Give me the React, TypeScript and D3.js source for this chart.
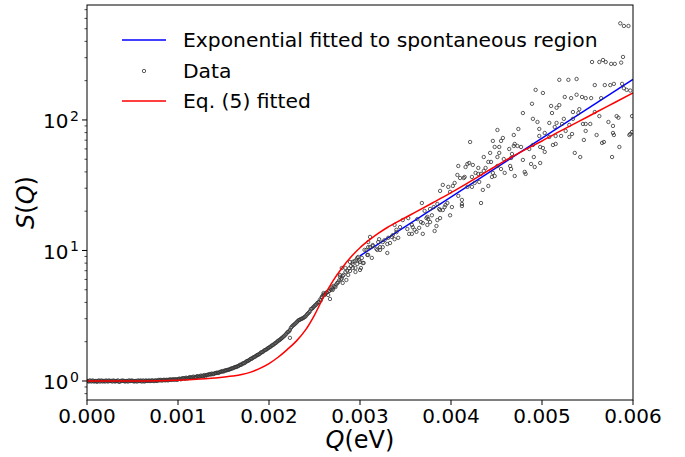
import React from 'react';
import * as d3 from 'd3';

// Q values are in meV (converted to eV for plotting), S dimensionless
const dataLow: [number, number][] = [
  [0,1.00],[0.02,0.99],[0.04,1.00],[0.06,1.01],[0.08,0.99],[0.1,1.00],[0.12,1.00],[0.14,0.99],[0.16,1.01],[0.18,1.00],
  [0.2,0.99],[0.22,1.00],[0.24,1.01],[0.26,1.00],[0.28,0.99],[0.3,1.00],[0.32,1.00],[0.34,1.01],[0.36,0.99],[0.38,1.00],
  [0.4,1.00],[0.42,0.99],[0.44,1.00],[0.46,1.01],[0.48,1.00],[0.5,1.00],[0.52,0.99],[0.54,1.00],[0.56,1.01],[0.58,1.00],
  [0.6,0.99],[0.62,1.01],[0.64,1.00],[0.66,1.00],[0.68,1.01],[0.7,1.00],[0.72,1.01],[0.74,1.00],[0.76,1.01],[0.78,1.01],
  [0.8,1.01],[0.82,1.01],[0.84,1.02],[0.86,1.01],[0.88,1.02],[0.9,1.02],[0.92,1.02],[0.94,1.03],[0.96,1.02],[0.98,1.03],
  [1.0,1.03],[1.02,1.04],[1.04,1.04],[1.06,1.05],[1.08,1.04],[1.1,1.05],[1.12,1.06],[1.14,1.06],[1.16,1.07],[1.18,1.06],
  [1.2,1.07],[1.22,1.08],[1.24,1.08],[1.26,1.09],[1.28,1.10],[1.3,1.09],[1.32,1.11],[1.34,1.12],[1.36,1.12],[1.38,1.13],
  [1.4,1.14],[1.42,1.15],[1.44,1.15],[1.46,1.17],[1.48,1.18],[1.5,1.18],[1.52,1.20],[1.54,1.21],[1.56,1.22],[1.58,1.24],
  [1.6,1.25],[1.62,1.27],[1.64,1.28],[1.66,1.30],[1.68,1.33],[1.7,1.34],[1.72,1.37],[1.74,1.39],[1.76,1.42],[1.78,1.44],
  [1.8,1.48],[1.82,1.50],[1.84,1.53],[1.86,1.56],[1.88,1.59],[1.9,1.62],[1.92,1.66],[1.94,1.69],[1.96,1.73],[1.98,1.76],
  [2.0,1.80],[2.02,1.84],[2.04,1.88],[2.06,1.93],[2.08,1.97],[2.1,2.03],[2.12,2.07],[2.14,2.13],[2.16,2.19],[2.18,2.26],
  [2.2,2.35],[2.22,2.40],[2.23,2.14],[2.24,2.55],[2.26,2.65],[2.28,2.72],[2.3,2.80],[2.32,2.90],[2.34,2.95],[2.36,3.0],
  [2.38,3.05],[2.4,3.12],[2.42,3.25],[2.44,3.35],[2.46,3.55],[2.48,3.62],[2.5,3.75],
];

const dataLowB: [number, number][] = [
  [0.01,1.00],[0.03,1.01],[0.05,0.99],[0.07,1.00],[0.09,1.00],[0.11,0.985],[0.13,1.01],[0.15,1.00],[0.17,0.99],[0.19,1.00],
  [0.21,1.01],[0.23,0.99],[0.25,1.00],[0.27,1.00],[0.29,1.01],[0.31,0.99],[0.33,1.00],[0.35,0.985],[0.37,1.00],[0.39,1.01],
  [0.41,1.00],[0.43,1.00],[0.45,0.99],[0.47,1.00],[0.49,1.01],[0.51,1.00],[0.53,1.00],[0.55,0.99],[0.57,1.00],[0.59,1.01],
  [0.61,1.00],[0.63,0.99],[0.65,1.01],[0.67,1.00],[0.69,1.00],[0.71,1.01],[0.73,1.00],[0.75,1.01],[0.77,1.00],[0.79,1.02],
  [0.81,1.02],[0.83,1.01],[0.85,1.02],[0.87,1.02],[0.89,1.01],[0.91,1.03],[0.93,1.02],[0.95,1.03],[0.97,1.03],[0.99,1.02],
  [1.01,1.04],[1.03,1.03],[1.05,1.05],[1.07,1.05],[1.09,1.06],[1.11,1.05],[1.13,1.07],[1.15,1.06],[1.17,1.08],[1.19,1.07],
  [1.21,1.09],[1.23,1.08],[1.25,1.10],[1.27,1.09],[1.29,1.11],[1.31,1.11],[1.33,1.12],[1.35,1.13],[1.37,1.14],[1.39,1.13],
  [1.41,1.15],[1.43,1.16],[1.45,1.16],[1.47,1.18],[1.49,1.19],[1.51,1.20],[1.53,1.21],[1.55,1.22],[1.57,1.23],[1.59,1.25],
  [1.61,1.26],[1.63,1.28],[1.65,1.29],[1.67,1.31],[1.69,1.33],[1.71,1.36],[1.73,1.37],[1.75,1.41],[1.77,1.43],[1.79,1.46],
  [1.81,1.48],[1.83,1.52],[1.85,1.54],[1.87,1.58],[1.89,1.60],[1.91,1.65],[1.93,1.67],[1.95,1.72],[1.97,1.74],[1.99,1.79],
  [2.01,1.82],[2.03,1.87],[2.05,1.90],[2.07,1.95],[2.09,2.00],[2.11,2.05],[2.13,2.10],[2.15,2.16],[2.17,2.22],[2.19,2.30],
  [2.21,2.38],[2.23,2.46],[2.25,2.60],[2.27,2.68],[2.29,2.76],[2.31,2.85],[2.33,2.93],[2.35,2.98],[2.37,3.02],[2.39,3.09],
  [2.41,3.18],[2.43,3.30],[2.45,3.42],[2.47,3.58],[2.49,3.70],
  [2.51,3.82],[2.53,3.95],[2.57,4.15],[2.59,4.5],[2.61,4.55],[2.63,4.75],[2.69,5.2],[2.71,5.35],[2.77,5.9],[2.79,6.0],
];

const dataMid: [number, number][] = [
  [2.52,3.85],[2.54,4.0],[2.55,4.03],[2.56,4.2],[2.58,4.35],[2.58,4.4],[2.6,4.6],[2.6,4.72],[2.62,4.65],[2.64,4.8],
  [2.65,4.56],[2.66,4.9],[2.66,4.89],[2.67,4.25],[2.68,5.0],[2.7,5.1],[2.7,4.98],[2.72,5.3],[2.73,5.25],[2.74,5.5],
  [2.75,5.64],[2.76,5.7],[2.78,6.3],[2.78,6.49],[2.8,6.1],[2.8,7.34],[2.81,6.38],[2.81,5.64],[2.82,6.5],[2.84,6.84],
  [2.84,7.34],[2.85,5.94],[2.86,7.0],[2.87,6.49],[2.88,7.3],[2.89,6.96],[2.89,8.17],[2.9,7.6],[2.92,8.17],[2.92,7.34],
  [2.92,7.88],[2.94,8.3],[2.95,6.84],[2.95,7.34],[2.96,8.5],[2.97,7.88],[2.97,8.77],[2.98,8.92],[2.99,8.4],[3.0,7.09],
  [3.0,8.17],[3.01,7.34],[3.02,8.77],[3.03,8.02],[3.04,8.02],[3.05,10.1],[3.07,10.1],[3.08,9.24],[3.09,9.24],[3.09,10.6],
  [3.09,11.6],[3.11,10.6],[3.11,12.7],[3.13,8.77],[3.14,10.8],[3.14,11.0],[3.18,10.3],[3.19,10.1],[3.2,11.6],[3.21,12.2],
  [3.22,10.1],[3.22,10.6],[3.25,10.6],[3.25,11.6],[3.27,12.0],[3.3,9.57],[3.3,11.2],[3.31,12.5],[3.33,11.4],[3.35,12.7],
  [3.36,13.1],[3.38,12.2],[3.38,15.7],[3.4,13.8],[3.4,14.4],[3.42,12.5],[3.44,15.1],[3.47,17.1],[3.52,14.6],[3.53,17.7],
  [3.54,13.4],[3.57,13.4],[3.57,15.7],[3.58,15.1],[3.6,14.4],[3.62,13.9],[3.63,17.4],[3.65,14.9],[3.67,16.5],[3.68,23.1],
  [3.69,13.4],[3.69,16.2],[3.71,20.1],[3.73,17.7],[3.74,15.7],[3.74,18.1],[3.75,17.4],[3.77,16.5],[3.77,20.8],[3.79,18.6],
  [3.81,21.5],[3.82,14.1],[3.84,15.4],[3.85,22.7],[3.85,17.1],[3.87,20.8],[3.88,17.7],[3.88,20.4],[3.88,28.6],[3.91,20.4],
  [3.91,31.8],[3.93,21.5],[3.94,22.3],[3.96,23.1],[3.97,30.7],[3.99,28.1],[3.99,18.6],[4.01,21.5],[4.02,31.2],[4.04,32.9],
  [4.07,37.9],[4.08,26.2],[4.08,44.4],
];

const dataHigh: [number, number][] = [
  [4.10,35.9],[4.12,24.4],[4.12,21.9],[4.12,22.7],[4.14,35.9],[4.15,36.6],[4.16,43.6],[4.18,46.0],[4.18,30.7],[4.2,46.8],
  [4.21,67.8],[4.23,36.6],[4.23,30.7],[4.24,45.2],[4.26,32.9],[4.27,39.3],[4.3,38.6],[4.3,42.9],[4.31,33.5],[4.33,38.6],
  [4.33,23.1],[4.35,29.1],[4.36,40.7],[4.36,52.0],[4.38,42.9],[4.41,47.7],[4.41,31.2],[4.43,55.9],[4.44,47.7],[4.45,36.6],
  [4.46,39.3],[4.46,69.1],[4.48,37.2],[4.48,62.1],[4.51,44.4],[4.51,52.0],[4.51,83.8],[4.53,55.9],[4.53,62.1],[4.55,42.1],
  [4.55,69.1],[4.57,72.8],[4.58,50.2],[4.59,39.3],[4.64,59.9],[4.65,44.4],[4.66,42.1],[4.66,51.1],[4.67,54.9],[4.69,63.2],
  [4.69,76.7],[4.70,37.2],[4.70,65.5],[4.73,63.2],[4.74,85.3],[4.77,62.1],[4.79,49.4],[4.79,113],[4.81,40.0],[4.82,38.6],
  [4.86,59.9],[4.88,46.0],[4.89,133],[4.90,64.3],[4.90,102],[4.91,52.0],[4.92,43.6],[4.93,170],[4.95,96.5],[4.97,75.4],
  [4.97,85.3],[4.98,46.8],[4.98,62.1],[5.01,61.0],[5.01,161],[5.03,56.9],[5.03,79.5],[5.08,74.1],[5.08,94.9],[5.10,128],
  [5.11,113],[5.12,64.3],[5.14,88.3],[5.15,65.5],[5.15,75.4],[5.16,94.9],[5.16,124],[5.19,130],[5.19,203],[5.21,75.4],
  [5.22,93.2],[5.24,102],[5.25,150],[5.26,82.4],[5.29,203],[5.30,74.1],[5.30,91.6],[5.32,147],[5.33,78.1],[5.34,102],
  [5.34,115],[5.36,55.9],[5.38,156],[5.38,206],[5.40,113],[5.41,121],[5.42,52.0],[5.44,150],[5.45,93.2],[5.46,70.3],
  [5.48,82.4],[5.48,93.2],[5.48,147],[5.53,93.2],[5.54,147],[5.55,278],[5.58,115],[5.58,185],[5.60,76.7],[5.63,107],
  [5.63,278],[5.65,147],[5.66,66.7],[5.67,288],[5.68,67.8],[5.69,185],[5.70,278],[5.73,96.5],[5.75,185],[5.76,269],
  [5.77,52.0],[5.78,79.5],[5.78,90],[5.79,76.7],[5.79,189],[5.80,269],[5.82,107],[5.84,104],[5.85,62.1],[5.86,550],
  [5.87,275],[5.88,189],[5.89,304],[5.90,525],[5.90,175],[5.93,170],[5.95,525],[5.96,76.7],[5.97,78.1],[5.97,168],
  [5.99,80.9],[5.99,107],
];

// Exponential fit (straight on log axis): endpoints
const expFit: [number, number][] = [[3.0, 9.1], [6.0, 205]];

// Eq. (5) fitted curve
const eq5Fit: [number, number][] = [
  [0,1.0],[0.5,1.0],[0.8,1.005],[1.0,1.015],[1.2,1.03],[1.4,1.055],[1.6,1.09],[1.7,1.12],[1.8,1.17],[1.9,1.25],
  [2.0,1.36],[2.1,1.52],[2.2,1.74],[2.3,2.02],[2.4,2.45],[2.5,3.2],[2.6,4.4],[2.7,5.8],[2.8,7.3],[2.9,8.9],
  [3.0,10.5],[3.1,12.0],[3.2,13.5],[3.3,15.0],[3.4,16.4],[3.5,17.9],[3.6,19.5],[3.8,23.2],[4.0,27.7],[4.2,33.4],
  [4.4,40.5],[4.6,49],[4.8,58.5],[5.0,69],[5.2,82],[5.4,97],[5.6,115],[5.8,136],[6.0,161],
];

const xTicks = [0, 0.001, 0.002, 0.003, 0.004, 0.005, 0.006];
const yMajor = [1, 10, 100];
const yMajorExp = ['0', '1', '2'];
const legendLabels = ['Exponential fitted to spontaneous region', 'Data', 'Eq. (5) fitted'];

const FONT = 'DejaVu Sans, sans-serif';

export default function App() {
  const L = 87, R = 633, T = 5, B = 400;
  const x = d3.scaleLinear().domain([0, 0.006]).range([L, R]);
  const y = d3.scaleLog().domain([0.715, 760]).range([B, T]);
  const line = d3.line<[number, number]>()
    .x(d => x(d[0] / 1000))
    .y(d => y(d[1]))
    .curve(d3.curveMonotoneX);

  const minor: number[] = [];
  for (let e = -1; e <= 2; e++) {
    for (let k = 2; k <= 9; k++) {
      const v = k * Math.pow(10, e);
      if (v > 0.715 && v < 760) minor.push(v);
    }
  }
  const points = [...dataLow, ...dataLowB, ...dataMid, ...dataHigh];

  return (
    <svg width={685} height={457} style={{ position: 'absolute', left: 0, top: 0, background: '#fff' }}
      fontFamily={FONT}>
      <rect x={0} y={0} width={685} height={457} fill="#fff" />
      <defs>
        <clipPath id="plotclip">
          <rect x={L} y={T} width={R - L} height={B - T} />
        </clipPath>
      </defs>
      <g clipPath="url(#plotclip)">
        <path d={line(expFit) || ''} fill="none" stroke="#0000ff" strokeWidth={1.5} />
        {points.map((d, i) => (
          <circle key={i} cx={x(d[0] / 1000)} cy={y(d[1])} r={1.7} fill="none" stroke="#333" strokeWidth={0.8} />
        ))}
        <path d={line(eq5Fit) || ''} fill="none" stroke="#ff0000" strokeWidth={1.5} />
      </g>
      {/* frame */}
      <rect x={L} y={T} width={R - L} height={B - T} fill="none" stroke="#000" strokeWidth={1} />
      {/* x ticks */}
      {xTicks.map((t, i) => (
        <g key={i}>
          <line x1={x(t)} x2={x(t)} y1={B} y2={B + 5} stroke="#000" strokeWidth={1} />
          <text x={x(t)} y={B + 23} fontSize={20} textAnchor="middle" fill="#000">{t.toFixed(3)}</text>
        </g>
      ))}
      {/* y major ticks */}
      {yMajor.map((t, i) => (
        <g key={i}>
          <line x1={L - 5} x2={L} y1={y(t)} y2={y(t)} stroke="#000" strokeWidth={1} />
          <text x={68.5} y={y(t) + 8.5} fontSize={20} textAnchor="end" fill="#000">10</text>
          <text x={70} y={y(t) + 1} fontSize={14} textAnchor="start" fill="#000">{yMajorExp[i]}</text>
        </g>
      ))}
      {minor.map((t, i) => (
        <line key={i} x1={L - 2.5} x2={L} y1={y(t)} y2={y(t)} stroke="#000" strokeWidth={0.7} />
      ))}
      {/* axis labels */}
      <text x={(L + R) / 2} y={448} fontSize={24} textAnchor="middle" fill="#000">
        <tspan fontStyle="italic">Q</tspan>(eV)
      </text>
      <text transform={`translate(34, ${(T + B) / 2}) rotate(-90)`} fontSize={24} textAnchor="middle" fill="#000">
        <tspan fontStyle="italic">S</tspan>(<tspan fontStyle="italic">Q</tspan>)
      </text>
      {/* legend */}
      <g>
        <line x1={122} x2={166} y1={40} y2={40} stroke="#0000ff" strokeWidth={1.5} />
        <circle cx={144} cy={71} r={1.7} fill="none" stroke="#333" strokeWidth={0.8} />
        <line x1={122} x2={166} y1={101} y2={101} stroke="#ff0000" strokeWidth={1.5} />
        {legendLabels.map((s, i) => (
          <text key={i} x={183} y={40 + i * 30.5 + 7} fontSize={20.3} fill="#000">{s}</text>
        ))}
      </g>
    </svg>
  );
}
